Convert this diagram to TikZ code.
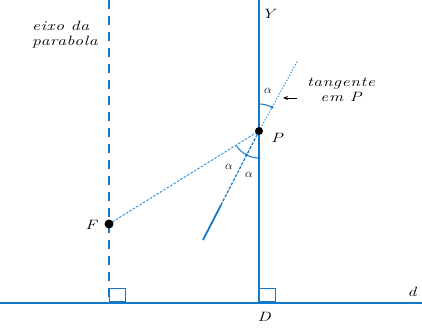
\documentclass[tikz,border=0pt]{standalone}
\usepackage{fontspec}
\setmainfont{Latin Modern Roman}
\newfontfamily\widefont{Latin Modern Roman}[FakeStretch=1.3, LetterSpace=5]
\usetikzlibrary{calc,arrows.meta}
\definecolor{lblue}{RGB}{20,120,200}
\definecolor{pblue}{RGB}{60,150,220}
\begin{document}
\begin{tikzpicture}[x=1pt,y=1pt,
  lbl/.style={font=\widefont\fontsize{13.5}{15}\selectfont\itshape, inner sep=1pt},
  gl/.style={font=\fontsize{13}{15}\selectfont, inner sep=1pt},
  bline/.style={draw=lblue, line width=1.3pt},
  enddot/.style={fill=lblue, draw=none},
  sq/.style={draw=lblue, line width=1pt}]
\useasboundingbox (0,0) rectangle (422,327);
% points
\coordinate (DL) at (0,24);
\coordinate (DR) at (422,24);
\coordinate (AxB) at (109,24);
\coordinate (AxT) at (109,327);
\coordinate (D) at (259,24);
\coordinate (YT) at (259,327);
\coordinate (F) at (109,103);
\coordinate (P) at (259,196);
\coordinate (T1) at (203,87);
\coordinate (T2) at (298,267);
\coordinate (TM) at ($(P)!0.68!(T1)$);
% directrix
\draw[draw=lblue, line width=2.6pt] (DL) -- (DR);
% axis of parabola
\draw[bline, dash pattern=on 9pt off 7pt] (AxT) -- (AxB);
% vertical line through P
\draw[bline] (D) -- (YT);
% right-angle squares
\draw[sq] (109,25.3) rectangle (125,39);
\draw[sq] (259.6,25.3) rectangle (275,39);
% F--P
\draw[draw=pblue, line width=1pt, dash pattern=on 2.5pt off 1.5pt] (F) -- (P);
% tangent
\draw[draw=lblue, line width=1.8pt] (T1) -- (TM);
\draw[draw=lblue, line width=1.2pt, dash pattern=on 3pt off 1.5pt] (TM) -- (P);
\draw[draw=pblue, line width=1.2pt, dash pattern=on 1.2pt off 1.8pt] (P) -- (T2);
% angle arcs
\draw[draw=lblue, line width=1pt] ([shift={(61.2:27pt)}]P) arc[start angle=61.2, end angle=90, radius=27pt];
\draw[draw=lblue, line width=1pt] ([shift={(211.8:27pt)}]P) arc[start angle=211.8, end angle=242.8, radius=27pt];
\draw[draw=lblue, line width=1pt] ([shift={(242.8:27pt)}]P) arc[start angle=242.8, end angle=270, radius=27pt];
\fill[enddot] ([shift={(61.2:27pt)}]P) circle (1.6pt);
\fill[enddot] ([shift={(242.8:27pt)}]P) circle (1.6pt);
\fill[enddot] ([shift={(270:27pt)}]P) circle (1.6pt);
% angle labels
\node[gl] (a1) at (268,236) {$\alpha$};
\node[gl] (a2) at (229,160) {$\alpha$};
\node[gl] (a3) at (249,152) {$\alpha$};
% dots
\fill (F) circle (4.5pt);
\fill (P) circle (4pt);
% labels
\node[lbl] (Fl) at (91,102) {F};
\node[lbl] (Pl) at (277,189) {P};
\node[lbl] (Dl) at (264,10) {D};
\node[lbl] (dl) at (412,35) {d};
\node[lbl] (Yl) at (268,313) {Y};
\node[lbl, align=left, anchor=west] (eixo) at (31,292) {eixo da\\parabola};
\node[lbl, align=center] (tang) at (341,237) {tangente\\em P};
\coordinate (arS) at (297,229);
\coordinate (arE) at (283,229);
\draw[-{Stealth[length=5pt,width=4pt]}, line width=0.8pt] (arS) -- (arE);
\end{tikzpicture}
\end{document}
